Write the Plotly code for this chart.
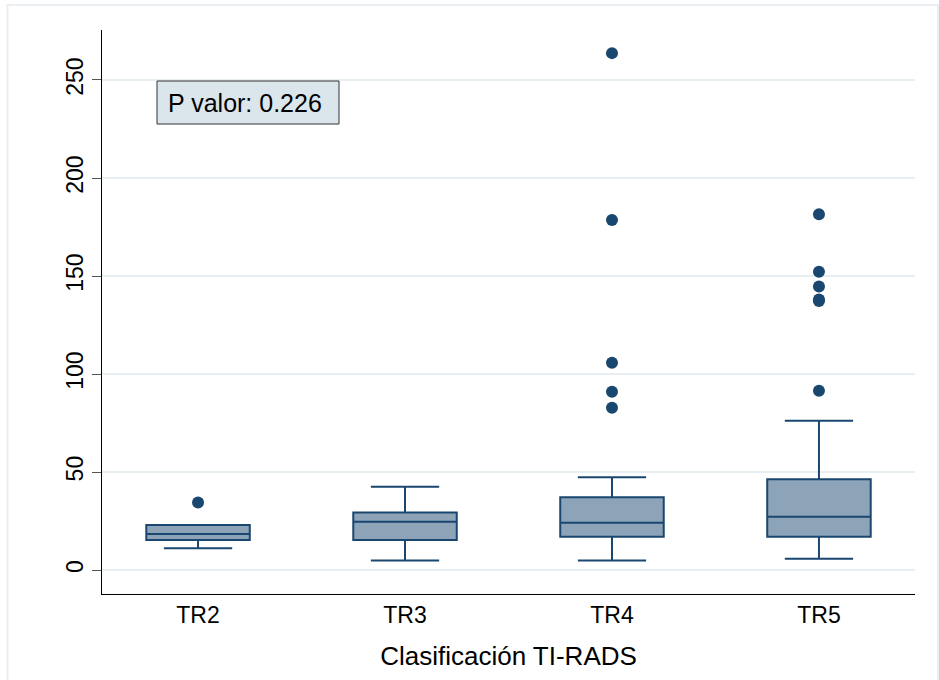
import plotly.graph_objects as go

categories = ["TR2", "TR3", "TR4", "TR5"]
q1 = [15.3, 15.3, 17.0, 17.0]
median = [18.4, 24.7, 24.2, 27.2]
q3 = [23.0, 29.4, 37.1, 46.3]
lower_fence = [11.1, 4.9, 4.9, 5.8]
upper_fence = [23.0, 42.5, 47.3, 76.2]

outlier_cat = ["TR2", "TR4", "TR4", "TR4", "TR4", "TR4", "TR5", "TR5", "TR5", "TR5", "TR5", "TR5"]
outlier_val = [34.5, 263.7, 178.6, 105.8, 91.0, 82.8, 181.5, 152.2, 144.6, 138.0, 137.2, 91.5]

y_ticks = [0, 50, 100, 150, 200, 250]
p_text = "P valor: 0.226"
x_title = "Clasificación TI-RADS"

navy = "#1a476f"
fill = "rgb(141,163,184)"

fig = go.Figure()
fig.add_trace(go.Box(
    x=categories, q1=q1, median=median, q3=q3,
    lowerfence=lower_fence, upperfence=upper_fence,
    boxpoints=False, width=0.5, whiskerwidth=0.66,
    fillcolor=fill, line=dict(color=navy, width=2),
    showlegend=False,
))
fig.add_trace(go.Scatter(
    x=outlier_cat, y=outlier_val, mode="markers",
    marker=dict(color=navy, size=12, line=dict(width=0)),
    showlegend=False,
))

W, H = 939, 680
L, R, T, B = 102, 24, 30, 86
pw, ph = W - L - R, H - T - B

def px(x):
    return (x - L) / pw

def py(y):
    return (H - B - y) / ph

# outer frame
fig.add_shape(type="rect", xref="paper", yref="paper",
              x0=px(7.5), x1=px(938), y0=py(690), y1=py(5),
              line=dict(color="#e9eff3", width=2), fillcolor="rgba(0,0,0,0)", layer="below")
# p-value box
fig.add_shape(type="rect", xref="paper", yref="paper",
              x0=px(157), x1=px(339), y0=py(124), y1=py(81),
              line=dict(color="#333333", width=1), fillcolor="#dbe5ec", layer="above")
fig.add_annotation(xref="paper", yref="paper", x=px(245), y=py(103),
                   text=p_text, showarrow=False, xanchor="center", yanchor="middle",
                   font=dict(size=25, color="black"))

fig.update_layout(
    width=W, height=H,
    margin=dict(l=L, r=R, t=T, b=B),
    paper_bgcolor="white", plot_bgcolor="white",
    font=dict(family="Liberation Sans, Arial, sans-serif", color="black", size=23),
    xaxis=dict(
        type="category", categoryorder="array", categoryarray=categories,
        range=[-0.464, 3.464], showgrid=False, showline=True, linecolor="black",
        linewidth=1, ticks="", tickfont=dict(size=23), zeroline=False,
        title=dict(text=x_title, font=dict(size=26), standoff=20),
    ),
    yaxis=dict(
        range=[-12.2, 275.5], tickvals=y_ticks, showgrid=True, gridcolor="#e8eff2",
        gridwidth=1.5, showline=True, linecolor="black", linewidth=1,
        ticks="outside", ticklen=9, tickcolor="#555555", tickangle=-90,
        tickfont=dict(size=23), zeroline=False,
    ),
)

fig.write_html("out.html")
